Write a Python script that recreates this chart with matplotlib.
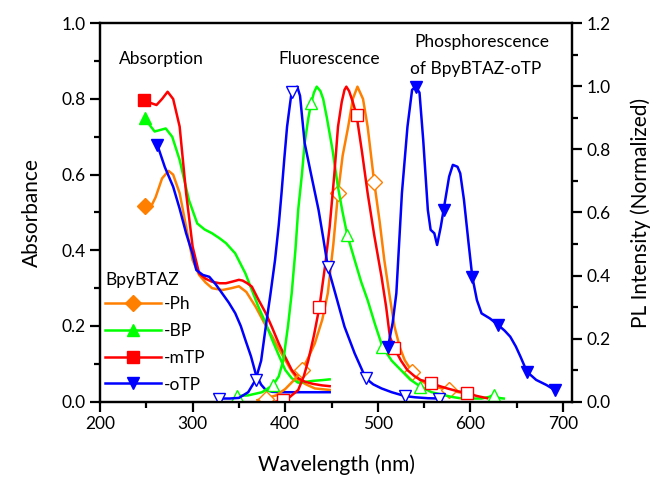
import numpy as np
import matplotlib
matplotlib.use('Agg')
import matplotlib.pyplot as plt
from matplotlib.ticker import MultipleLocator

plt.rcParams['font.family'] = ['Lato', 'DejaVu Sans']

# ---- absorption (left axis) ----
ph_abs_x = [249, 254, 260, 267, 274, 279, 286, 293, 300, 307, 314, 321, 332, 342, 350, 358, 368, 377, 386, 393, 400, 407, 414, 423, 432, 440, 448]
ph_abs_y = [0.517, 0.51, 0.54, 0.59, 0.61, 0.60, 0.551, 0.462, 0.374, 0.335, 0.315, 0.30, 0.295, 0.30, 0.305, 0.29, 0.251, 0.21, 0.172, 0.14, 0.11, 0.08, 0.057, 0.045, 0.035, 0.033, 0.031]

bp_abs_x = [249, 254, 259, 265, 271, 278, 286, 296, 305, 313, 321, 329, 336, 346, 357, 364, 371, 379, 386, 393, 400, 407, 414, 421, 430, 440, 448]
bp_abs_y = [0.749, 0.73, 0.714, 0.718, 0.722, 0.70, 0.639, 0.533, 0.471, 0.455, 0.445, 0.432, 0.419, 0.392, 0.339, 0.295, 0.251, 0.207, 0.163, 0.123, 0.084, 0.062, 0.05, 0.052, 0.055, 0.057, 0.059]

mtp_abs_x = [248, 254, 261, 267, 273, 279, 286, 293, 300, 307, 314, 321, 329, 336, 344, 350, 354, 359, 364, 371, 379, 386, 393, 400, 407, 414, 421, 430, 440, 448]
mtp_abs_y = [0.797, 0.79, 0.784, 0.80, 0.819, 0.80, 0.727, 0.551, 0.41, 0.339, 0.325, 0.317, 0.313, 0.313, 0.318, 0.322, 0.32, 0.313, 0.304, 0.27, 0.234, 0.195, 0.154, 0.118, 0.084, 0.062, 0.053, 0.047, 0.043, 0.041]

otp_abs_x = [262, 270, 279, 286, 293, 300, 304, 311, 318, 325, 332, 339, 346, 352, 357, 363, 368, 374, 379, 386, 396, 410, 430, 448]
otp_abs_y = [0.678, 0.62, 0.568, 0.51, 0.445, 0.39, 0.348, 0.335, 0.33, 0.31, 0.286, 0.262, 0.234, 0.2, 0.163, 0.12, 0.075, 0.045, 0.031, 0.026, 0.025, 0.025, 0.025, 0.025]

# ---- fluorescence (right axis) ----
ph_fl_x = [370, 379, 390, 400, 410, 418, 425, 432, 440, 446, 452, 457, 462, 468, 473, 478, 484, 489, 496, 502, 507, 513, 518, 524, 529, 537, 545, 554, 565, 577, 587, 596, 603]
ph_fl_y = [0.005, 0.01, 0.02, 0.04, 0.07, 0.1, 0.14, 0.185, 0.26, 0.344, 0.5, 0.661, 0.78, 0.872, 0.96, 0.999, 0.96, 0.872, 0.698, 0.57, 0.449, 0.33, 0.238, 0.17, 0.132, 0.095, 0.07, 0.053, 0.045, 0.037, 0.03, 0.027, 0.022]
ph_fl_mk = [379, 418, 457, 496, 537, 577]

bp_fl_x = [348, 360, 375, 387, 393, 398, 403, 407, 411, 414, 418, 421, 425, 428, 431, 434, 438, 441, 445, 451, 457, 462, 467, 475, 482, 489, 497, 505, 515, 525, 535, 546, 558, 571, 580, 589, 600, 612, 620, 625, 630, 636]
bp_fl_y = [0.018, 0.02, 0.03, 0.053, 0.08, 0.132, 0.24, 0.344, 0.48, 0.608, 0.72, 0.82, 0.9, 0.946, 0.98, 0.999, 0.985, 0.96, 0.9, 0.8, 0.68, 0.6, 0.529, 0.449, 0.38, 0.322, 0.245, 0.174, 0.13, 0.1, 0.07, 0.048, 0.03, 0.021, 0.015, 0.011, 0.01, 0.01, 0.015, 0.021, 0.012, 0.01]
bp_fl_mk = [348, 387, 428, 467, 505, 546, 625]

mtp_fl_x = [390, 398, 405, 414, 420, 425, 431, 437, 443, 448, 453, 457, 461, 464, 466, 469, 473, 477, 483, 489, 496, 504, 509, 513, 518, 525, 532, 540, 546, 557, 566, 575, 585, 596, 607, 618]
mtp_fl_y = [0.0, 0.005, 0.015, 0.037, 0.08, 0.132, 0.21, 0.301, 0.43, 0.555, 0.72, 0.872, 0.95, 0.989, 0.999, 0.985, 0.95, 0.909, 0.79, 0.661, 0.53, 0.396, 0.3, 0.206, 0.169, 0.13, 0.1, 0.08, 0.069, 0.06, 0.05, 0.042, 0.034, 0.027, 0.018, 0.011]
mtp_fl_mk = [398, 437, 477, 518, 557, 596]

otp_fl_x = [329, 340, 350, 360, 368, 374, 379, 384, 389, 393, 396, 399, 402, 405, 407, 410, 413, 416, 421, 428, 436, 441, 446, 454, 464, 475, 487, 495, 504, 515, 529, 540, 554, 566]
otp_fl_y = [0.01, 0.01, 0.012, 0.03, 0.069, 0.13, 0.238, 0.34, 0.449, 0.56, 0.661, 0.77, 0.872, 0.94, 0.983, 0.995, 0.999, 0.97, 0.82, 0.72, 0.608, 0.52, 0.428, 0.344, 0.238, 0.153, 0.074, 0.055, 0.042, 0.03, 0.018, 0.014, 0.011, 0.01]
otp_fl_mk = [329, 368, 407, 446, 487, 529, 566]

# ---- phosphorescence of oTP (right axis) ----
otp_ph_x = [511, 516, 520, 526, 532, 537, 541, 545, 549, 554, 557, 561, 564, 568, 571, 577, 581, 586, 589, 593, 598, 602, 607, 612, 621, 630, 637, 643, 649, 654, 661, 671, 682, 691]
otp_ph_y = [0.174, 0.25, 0.344, 0.661, 0.872, 0.989, 0.999, 0.98, 0.83, 0.608, 0.545, 0.534, 0.497, 0.555, 0.608, 0.714, 0.751, 0.745, 0.724, 0.64, 0.502, 0.396, 0.322, 0.28, 0.264, 0.243, 0.225, 0.206, 0.175, 0.143, 0.095, 0.069, 0.053, 0.037]
otp_ph_mk = [511, 541, 571, 602, 630, 661, 691]

names = ['-Ph', '-BP', '-mTP', '-oTP']
colors = ['#FF8000', '#00FF00', '#FF0000', '#0000FF']
markers = ['D', '^', 's', 'v']


def mk_idx(xs, mk):
    xs = np.asarray(xs)
    return [int(np.argmin(np.abs(xs - m))) for m in mk]


fig = plt.figure(figsize=(6.57, 4.87), dpi=100)
ax = fig.add_axes([0.1522, 0.1752, 0.7189, 0.777])
ax2 = ax.twinx()

abs_sets = [(ph_abs_x, ph_abs_y), (bp_abs_x, bp_abs_y), (mtp_abs_x, mtp_abs_y), (otp_abs_x, otp_abs_y)]
fl_sets = [(ph_fl_x, ph_fl_y, ph_fl_mk), (bp_fl_x, bp_fl_y, bp_fl_mk),
           (mtp_fl_x, mtp_fl_y, mtp_fl_mk), (otp_fl_x, otp_fl_y, otp_fl_mk)]
msz = [8, 9, 8, 9]

handles = []
for (x, y), c, m, s, n in zip(abs_sets, colors, markers, msz, names):
    h, = ax.plot(x, y, color=c, lw=1.8, marker=m, ms=s, markevery=[0], label=n)
    handles.append(h)

for (x, y, mk), c, m, s in zip(fl_sets, colors, markers, msz):
    ax2.plot(x, y, color=c, lw=1.8, marker=m, ms=s, mfc='white', mec=c, mew=1.0,
             markevery=mk_idx(x, mk))

ax2.plot(otp_ph_x, otp_ph_y, color='#0000FF', lw=1.8, marker='v', ms=9,
         markevery=mk_idx(otp_ph_x, otp_ph_mk))

ax.set_xlim(200, 710)
ax.set_ylim(0, 1.0)
ax2.set_ylim(0, 1.2)

ax.xaxis.set_major_locator(MultipleLocator(100))
ax.xaxis.set_minor_locator(MultipleLocator(50))
ax.yaxis.set_major_locator(MultipleLocator(0.2))
ax.yaxis.set_minor_locator(MultipleLocator(0.1))
ax2.yaxis.set_major_locator(MultipleLocator(0.2))
ax2.yaxis.set_minor_locator(MultipleLocator(0.1))

for a in (ax, ax2):
    for sp in a.spines.values():
        sp.set_linewidth(1.6)
    a.tick_params(which='major', direction='out', length=7, width=1.6, labelsize=12.5)
    a.tick_params(which='minor', direction='out', length=4, width=1.6)
ax.yaxis.set_major_formatter(matplotlib.ticker.FormatStrFormatter('%.1f'))
ax2.yaxis.set_major_formatter(matplotlib.ticker.FormatStrFormatter('%.1f'))

ax.set_xlabel('Wavelength (nm)', fontsize=15, labelpad=16)
ax.set_ylabel('Absorbance', fontsize=15, labelpad=14)
ax2.set_ylabel('PL Intensity (Normalized)', fontsize=15, labelpad=14)

ax.text(0.13, 0.905, 'Absorption', transform=ax.transAxes, fontsize=12.5, ha='center', va='center')
ax.text(0.485, 0.905, 'Fluorescence', transform=ax.transAxes, fontsize=12.5, ha='center', va='center')
ax.text(0.808, 0.95, 'Phosphorescence', transform=ax.transAxes, fontsize=12.5, ha='center', va='center')
ax.text(0.795, 0.88, 'of BpyBTAZ-oTP', transform=ax.transAxes, fontsize=12.5, ha='center', va='center')

leg = ax.legend(handles=handles, title='BpyBTAZ', loc='upper left', bbox_to_anchor=(-0.015, 0.375),
                frameon=False, fontsize=12.5, title_fontsize=12.5, handlelength=3.2,
                handletextpad=0.2, labelspacing=0.62, borderpad=0.2)
leg._legend_box.align = 'left'
leg._legend_box.sep = 6

fig.savefig('out.png', dpi=100)
